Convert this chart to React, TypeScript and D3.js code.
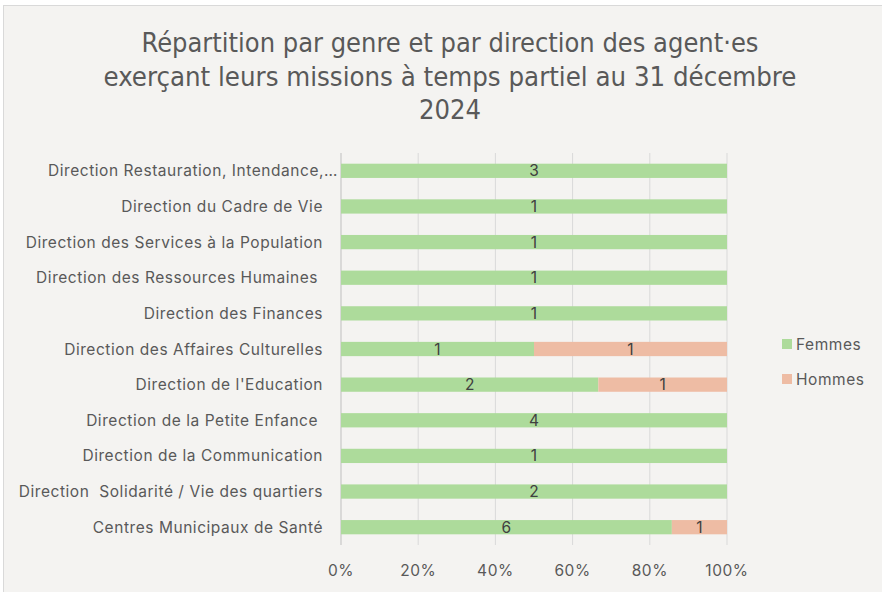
import React from "react";
import * as d3 from "d3";

const categories = [
  "Direction Restauration, Intendance,…",
  "Direction du Cadre de Vie",
  "Direction des Services à la Population",
  "Direction des Ressources Humaines ",
  "Direction des Finances",
  "Direction des Affaires Culturelles",
  "Direction de l'Education",
  "Direction de la Petite Enfance ",
  "Direction de la Communication",
  "Direction  Solidarité / Vie des quartiers",
  "Centres Municipaux de Santé",
];
const femmes = [3, 1, 1, 1, 1, 1, 2, 4, 1, 2, 6];
const hommes = [0, 0, 0, 0, 0, 1, 1, 0, 0, 0, 1];
const seriesNames = ["Femmes", "Hommes"];
const seriesColors = ["#ADDB9B", "#EEBCA4"];
const xTicks = [0, 0.2, 0.4, 0.6, 0.8, 1];
const titleLines = [
  "Répartition par genre et par direction des agent·es",
  "exerçant leurs missions à temps partiel au 31 décembre",
  "2024",
];
const titleWidths = [617, 693, 62];

export default function App() {
  const W = 882, H = 592;
  const left = 341, right = 727, top = 153, bottom = 545;
  const x = d3.scaleLinear().domain([0, 1]).range([left, right]);
  const y = d3.scaleBand().domain(categories).range([top, bottom]).paddingInner(0.6).paddingOuter(0.3);
  const rows = categories.map((c, i) => ({ c, f: femmes[i], h: hommes[i], t: femmes[i] + hommes[i] }));
  const labelFont = "Inter, 'Open Sans', sans-serif";
  const titleFont = "'DejaVu Sans Condensed', Inter, sans-serif";
  const ls = 0.55;
  return (
    <svg width={W} height={H} style={{ position: "absolute", left: 0, top: 0 }}>
      <rect x={0} y={0} width={W} height={H} fill="#ffffff" />
      <rect x={3.5} y={5.5} width={W + 10} height={H + 10} fill="#F4F3F1" stroke="#D9D9D9" />
      {titleLines.map((t, i) => (
        <text key={i} x={450} y={52 + i * 33.5} textAnchor="middle" fontFamily={titleFont} fontSize={26}
          fill="#595959" textLength={titleWidths[i]} lengthAdjust="spacingAndGlyphs">{t}</text>
      ))}
      {xTicks.map((t) => (
        <line key={t} x1={x(t)} x2={x(t)} y1={top} y2={bottom} stroke={t === 0 ? "#BFBFBF" : "#D9D9D9"} strokeWidth={1} />
      ))}
      {xTicks.map((t) => (
        <text key={"l" + t} x={x(t)} y={576} textAnchor="middle" fontFamily={labelFont} fontSize={15.5} letterSpacing={ls} fill="#595959">{d3.format(".0%")(t)}</text>
      ))}
      {rows.map((r) => {
        const yy = y(r.c)!;
        const bh = y.bandwidth();
        const fEnd = x(r.f / r.t);
        return (
          <g key={r.c}>
            <rect x={x(0)} y={yy} width={fEnd - x(0)} height={bh} fill={seriesColors[0]} />
            {r.h > 0 && <rect x={fEnd} y={yy} width={x(1) - fEnd} height={bh} fill={seriesColors[1]} />}
            <text x={(x(0) + fEnd) / 2} y={yy + bh / 2 + 5.5} textAnchor="middle" fontFamily={labelFont} fontSize={15.5} fill="#404040">{r.f}</text>
            {r.h > 0 && <text x={(fEnd + x(1)) / 2} y={yy + bh / 2 + 5.5} textAnchor="middle" fontFamily={labelFont} fontSize={15.5} fill="#404040">{r.h}</text>}
            <text x={r.c.startsWith("Direction Restauration") ? 338 : 323} y={yy + bh / 2 + 5.5} textAnchor="end" fontFamily={labelFont} fontSize={15.5} letterSpacing={ls} fill="#595959" style={{ whiteSpace: "pre" }}>{r.c}</text>
          </g>
        );
      })}
      {seriesNames.map((s, i) => (
        <g key={s}>
          <rect x={782} y={339 + i * 35} width={10} height={10} fill={seriesColors[i]} />
          <text x={796} y={350 + i * 35} fontFamily={labelFont} fontSize={15.5} letterSpacing={ls} fill="#595959">{s}</text>
        </g>
      ))}
    </svg>
  );
}
